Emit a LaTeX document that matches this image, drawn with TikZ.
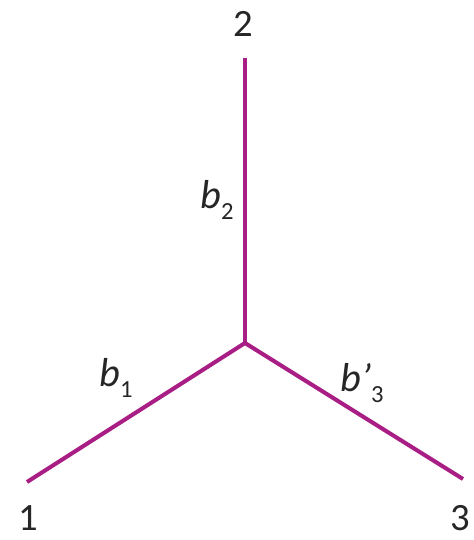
\documentclass[tikz,border=0pt]{standalone}
\usepackage{fontspec}
\setmainfont{Carlito}
\usepackage{tikz}

\definecolor{treemag}{RGB}{168,30,132}

% branch label: italic letter with a lowered index
\newcommand{\brlab}[2]{\textit{b#1}\raisebox{-0.55ex}{\fontsize{14}{16}\selectfont #2}}

\begin{document}
\begin{tikzpicture}[
  branch/.style={treemag,line width=2.3pt},
  leaf/.style={font=\fontsize{22}{25}\selectfont,text=black!85,inner sep=0pt},
  blab/.style={font=\fontsize{23}{26}\selectfont,text=black!85,inner sep=0pt},
]
\useasboundingbox (-4.9,-3.94) rectangle (4.56,6.86);

\coordinate (mid) at (0,0);
\coordinate (t2) at (0,5.7);
\coordinate (t1) at (-4.36,-2.78);
\coordinate (t3) at (4.36,-2.72);

\node[leaf] (n2) at (-0.04,6.38) {2};
\node[leaf] (n1) at (-4.34,-3.5) {1};
\node[leaf] (n3) at (4.3,-3.5) {3};

% the three branches
\draw[branch] (mid) -- (t2);
\draw[branch] (mid) -- (t1);
\draw[branch] (mid) -- (t3);

\node[blab] (b2) at (-0.56,2.86) {\brlab{}{2}};
\node[blab] (b1) at (-2.58,-0.7) {\brlab{}{1}};
\node[blab] (b3) at (2.34,-0.8) {\brlab{'}{3}};

\end{tikzpicture}
\end{document}
